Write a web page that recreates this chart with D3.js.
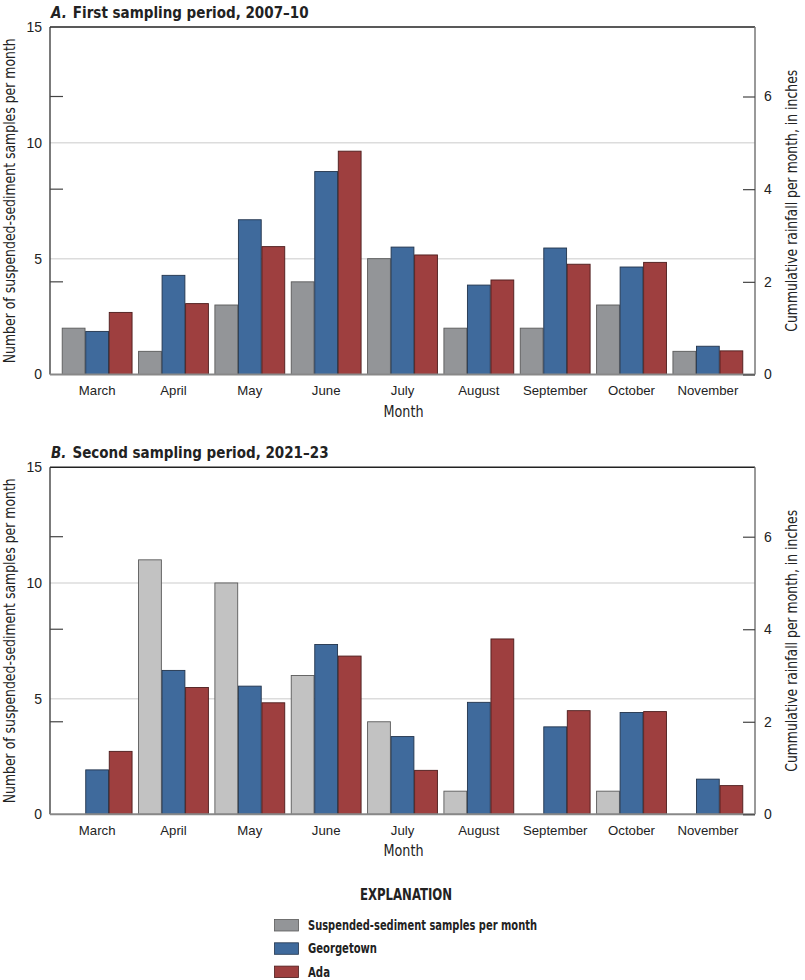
<!DOCTYPE html>
<html>
<head>
<meta charset="utf-8">
<script src="https://cdn.jsdelivr.net/npm/d3@7"></script>
<style>
  body { margin: 0; background: #fff; }
  svg { font-family: "Liberation Sans Narrow", "DejaVu Sans Condensed", "Roboto", sans-serif; }
</style>
</head>
<body>
<svg width="805" height="980"></svg>
<script>
// months on the x axis
const months = ['March', 'April', 'May', 'June', 'July', 'August', 'September', 'October', 'November'];

// panel A, 2007-10
const samplesA = [2, 1, 3, 4, 5, 2, 2, 3, 1];
const georgetownA = [0.93, 2.14, 3.34, 4.38, 2.75, 1.93, 2.73, 2.32, 0.61];
const adaA = [1.34, 1.53, 2.76, 4.82, 2.58, 2.04, 2.38, 2.42, 0.51];

// panel B, 2021-23
const samplesB = [0, 11, 10, 6, 4, 1, 0, 1, 0];
const georgetownB = [0.96, 3.11, 2.77, 3.67, 1.68, 2.42, 1.89, 2.20, 0.76];
const adaB = [1.36, 2.74, 2.41, 3.42, 0.95, 3.79, 2.24, 2.22, 0.62];

const leftTicks = [0, 5, 10, 15];
const rightTicks = [0, 2, 4, 6];
const gridValues = [5, 10];

const legendLabels = ['Suspended-sediment samples per month', 'Georgetown', 'Ada'];
const legendWidths = [229, 69, 22];

const blue = '#3f6a9c', red = '#9e3f3f';

const svg = d3.select('svg');
const left = 50, right = 755;

function drawPanel(top, bottom, letter, title, samples, georgetown, ada, grayFill) {
  const g = svg.append('g');

  const x = d3.scaleBand().domain(months).range([left, right]).paddingInner(0.085).paddingOuter(0.16);
  const sub = d3.scaleBand().domain([0, 1, 2]).range([0, x.bandwidth()]).paddingInner(0.03);
  const yL = d3.scaleLinear().domain([0, 15]).range([bottom, top]);
  const yR = d3.scaleLinear().domain([0, 7.5]).range([bottom, top]);

  // grid lines
  g.selectAll('.grid').data(gridValues).enter().append('line')
    .attr('x1', left).attr('x2', right)
    .attr('y1', d => yL(d)).attr('y2', d => yL(d))
    .attr('stroke', '#dcdcdc').attr('stroke-width', 1.5);

  // bars
  const series = [
    { vals: samples, y: yL, fill: grayFill, stroke: '#5a5a5a' },
    { vals: georgetown, y: yR, fill: blue, stroke: '#22344c' },
    { vals: ada, y: yR, fill: red, stroke: '#4c1c1c' }
  ];
  series.forEach((s, i) => {
    g.selectAll('.bar' + i)
      .data(months.map((m, j) => ({ m, v: s.vals[j] })).filter(d => d.v > 0))
      .enter().append('rect')
      .attr('x', d => x(d.m) + sub(i))
      .attr('y', d => s.y(d.v))
      .attr('width', sub.bandwidth())
      .attr('height', d => bottom - s.y(d.v))
      .attr('fill', s.fill)
      .attr('stroke', s.stroke)
      .attr('stroke-width', 0.9);
  });

  // frame
  g.append('line').attr('x1', left).attr('x2', right).attr('y1', top).attr('y2', top)
    .attr('stroke', '#222').attr('stroke-width', 1.5);
  g.append('line').attr('x1', left).attr('x2', left).attr('y1', top).attr('y2', bottom)
    .attr('stroke', '#333').attr('stroke-width', 1.3);
  g.append('line').attr('x1', right).attr('x2', right).attr('y1', top).attr('y2', bottom)
    .attr('stroke', '#777').attr('stroke-width', 1.5);
  g.append('line').attr('x1', left).attr('x2', right).attr('y1', bottom).attr('y2', bottom)
    .attr('stroke', '#888').attr('stroke-width', 2);

  // left axis: labels only, inward ticks sit at the rainfall ticks
  const axL = g.append('g').attr('transform', `translate(${left},0)`)
    .call(d3.axisLeft(yL).tickValues(leftTicks).tickSize(0).tickPadding(8));
  axL.select('.domain').remove();
  axL.selectAll('text').attr('font-size', 14).attr('fill', '#222');
  g.selectAll('.lt').data(rightTicks.slice(1)).enter().append('line')
    .attr('x1', left).attr('x2', left + 13)
    .attr('y1', d => yR(d)).attr('y2', d => yR(d))
    .attr('stroke', '#444').attr('stroke-width', 1.2);

  const axR = g.append('g').attr('transform', `translate(${right},0)`)
    .call(d3.axisRight(yR).tickValues(rightTicks).tickSizeInner(-12).tickSizeOuter(0).tickPadding(9));
  axR.select('.domain').remove();
  axR.selectAll('line').attr('stroke', '#444').attr('stroke-width', 1.2);
  axR.selectAll('text').attr('font-size', 14).attr('fill', '#222');

  // month labels
  const axB = g.append('g').attr('transform', `translate(0,${bottom})`)
    .call(d3.axisBottom(x).tickSize(0).tickPadding(11));
  axB.select('.domain').remove();
  axB.selectAll('text').attr('font-size', 13.2).attr('fill', '#222');

  g.append('text').attr('x', (left + right) / 2 + 1).attr('y', bottom + 42)
    .attr('text-anchor', 'middle').attr('font-size', 15.5).attr('fill', '#222')
    .attr('textLength', 40).attr('lengthAdjust', 'spacingAndGlyphs').text('Month');

  const mid = (top + bottom) / 2;
  g.append('text').attr('transform', `translate(15,${mid}) rotate(-90)`)
    .attr('text-anchor', 'middle').attr('font-size', 15).attr('fill', '#222')
    .attr('textLength', 325).attr('lengthAdjust', 'spacingAndGlyphs')
    .text('Number of suspended-sediment samples per month');
  g.append('text').attr('transform', `translate(797,${mid}) rotate(-90)`)
    .attr('text-anchor', 'middle').attr('font-size', 15).attr('fill', '#222')
    .attr('textLength', 262).attr('lengthAdjust', 'spacingAndGlyphs')
    .text('Cummulative rainfall per month, in inches');

  // panel title
  const t = g.append('text').attr('x', left + 1).attr('y', top - 9)
    .attr('font-size', 15).attr('font-weight', 'bold').attr('fill', '#222');
  t.append('tspan').attr('font-style', 'italic').text(letter + '.');
  t.append('tspan').attr('dx', 6).text(title);
}

drawPanel(27, 374.5, 'A', 'First sampling period, 2007–10', samplesA, georgetownA, adaA, '#939598');
drawPanel(467.3, 814.3, 'B', 'Second sampling period, 2021–23', samplesB, georgetownB, adaB, '#c2c2c2');

// legend
svg.append('text').attr('x', 406).attr('y', 900).attr('text-anchor', 'middle')
  .attr('font-size', 15).attr('font-weight', 'bold').attr('fill', '#222')
  .attr('textLength', 92).attr('lengthAdjust', 'spacingAndGlyphs').text('EXPLANATION');

const legendFills = ['#939598', blue, red];
const legendStrokes = ['#5a5a5a', '#22344c', '#4c1c1c'];
const lg = svg.append('g');
lg.selectAll('rect').data(legendLabels).enter().append('rect')
  .attr('x', 274.5).attr('y', (d, i) => 919.5 + i * 23.3)
  .attr('width', 24).attr('height', 11.5)
  .attr('fill', (d, i) => legendFills[i]).attr('stroke', (d, i) => legendStrokes[i]).attr('stroke-width', 0.8);
lg.selectAll('text').data(legendLabels).enter().append('text')
  .attr('x', 308).attr('y', (d, i) => 930 + i * 23.3)
  .attr('font-size', 13.5).attr('font-weight', 'bold').attr('fill', '#222')
  .attr('textLength', (d, i) => legendWidths[i]).attr('lengthAdjust', 'spacingAndGlyphs')
  .text(d => d);
</script>
</body>
</html>
